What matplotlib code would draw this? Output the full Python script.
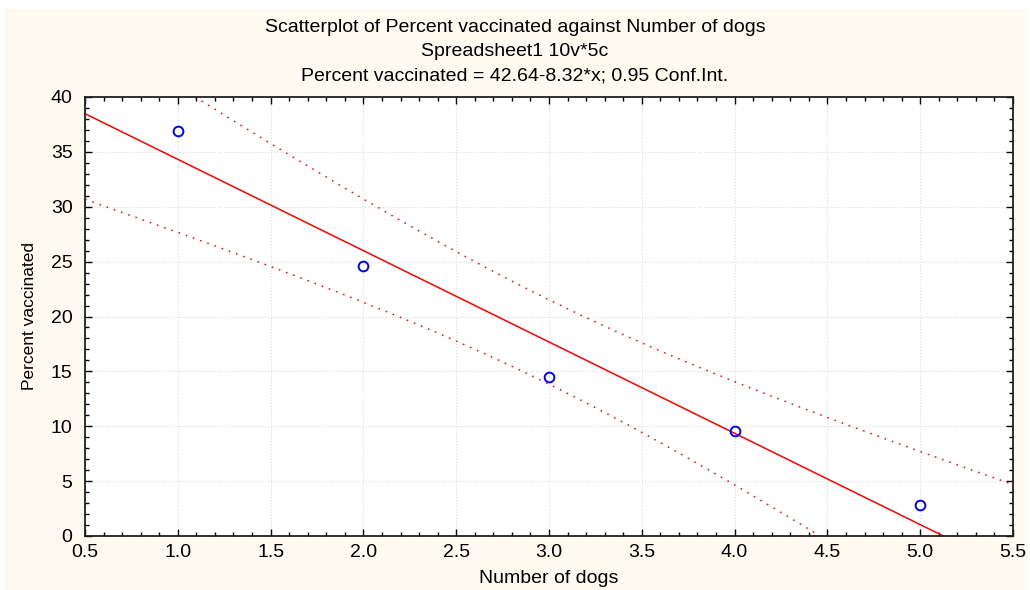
import numpy as np
import matplotlib
matplotlib.use("Agg")
import matplotlib.pyplot as plt
from matplotlib.patches import Rectangle
from matplotlib.ticker import MultipleLocator

plt.rcParams['font.family'] = ['Liberation Sans', 'DejaVu Sans']

# data
dogs = np.array([1.0, 2.0, 3.0, 4.0, 5.0])
vaccinated = np.array([36.9, 24.6, 14.5, 9.6, 2.8])

# regression and 0.95 confidence band (t for df=3)
t_crit = 3.182446
n = len(dogs)
slope, intercept = np.polyfit(dogs, vaccinated, 1)
resid = vaccinated - (intercept + slope * dogs)
s = np.sqrt(np.sum(resid ** 2) / (n - 2))
xbar = dogs.mean()
sxx = np.sum((dogs - xbar) ** 2)

xs = np.linspace(0.5, 5.5, 200)
fit = intercept + slope * xs
half = t_crit * s * np.sqrt(1.0 / n + (xs - xbar) ** 2 / sxx)

fig = plt.figure(figsize=(10.3, 5.9), dpi=100, facecolor='white')
fig.patches.append(Rectangle((5 / 1030, 0), 1023 / 1030, 581 / 590,
                             transform=fig.transFigure, facecolor='#fefaf0',
                             edgecolor='none', zorder=-10))

ax = fig.add_axes([85 / 1030, 1 - 536 / 590, 928 / 1030, 439 / 590])
ax.set_facecolor('white')

ax.plot(xs, fit, color='#ff0000', lw=1.1)
ax.plot(xs, fit + half, color='#ff0000', lw=1.1, ls=(0, (1, 4)))
ax.plot(xs, fit - half, color='#ff0000', lw=1.1, ls=(0, (1, 4)))
ax.plot(dogs, vaccinated, 'o', mfc='none', mec='#0000ff', ms=7, mew=1.4)

ax.set_xlim(0.5, 5.5)
ax.set_ylim(0, 40)
ax.xaxis.set_major_locator(MultipleLocator(0.5))
ax.xaxis.set_minor_locator(MultipleLocator(0.1))
ax.yaxis.set_major_locator(MultipleLocator(5))
ax.yaxis.set_minor_locator(MultipleLocator(1))
ax.set_xticklabels([f"{v:.1f}" for v in ax.get_xticks()])
ax.tick_params(which='both', direction='in', top=True, right=True, labelsize=14)
ax.tick_params(axis='x', pad=6)
ax.tick_params(axis='y', pad=9)
ax.tick_params(which='major', length=5, width=1)
ax.tick_params(which='minor', length=3, width=1)
ax.grid(True, which='major', color='#dcdcdc', ls=':', lw=0.8)
for sp in ax.spines.values():
    sp.set_linewidth(1.3)
    sp.set_color('#202020')

ax.set_xlabel("Number of dogs", fontsize=14, labelpad=6)
ax.set_ylabel("Percent vaccinated", fontsize=12.5, labelpad=10)

fig.text(0.5, 1 - 28 / 590, "Scatterplot of Percent vaccinated against Number of dogs",
         ha='center', va='center', fontsize=14)
fig.text(0.5, 1 - 51 / 590, "Spreadsheet1 10v*5c", ha='center', va='center', fontsize=14)
fig.text(0.5, 1 - 76 / 590,
         f"Percent vaccinated = {intercept:.2f}{slope:.2f}*x; 0.95 Conf.Int.",
         ha='center', va='center', fontsize=14)

fig.savefig("out.png", dpi=100, facecolor=fig.get_facecolor())
